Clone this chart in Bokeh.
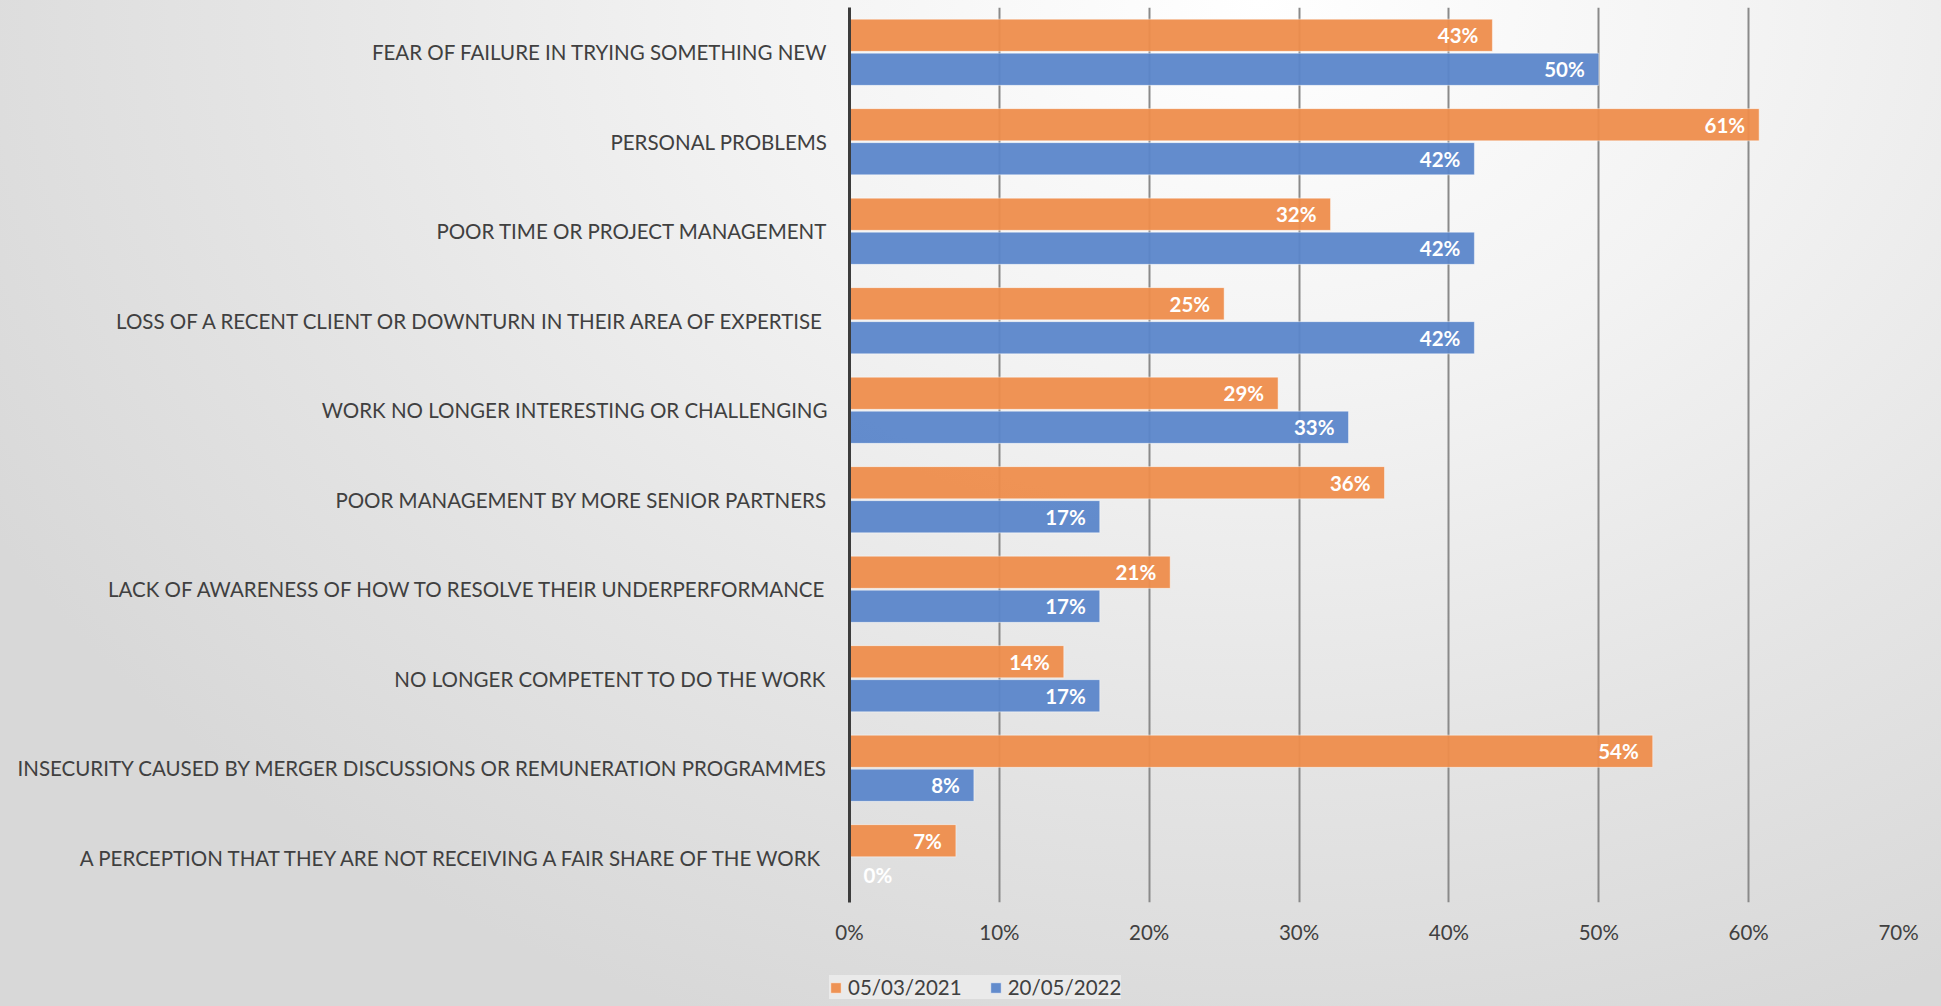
from bokeh.plotting import figure
from bokeh.models import (FactorRange, Range1d, ColumnDataSource, Legend, LegendItem,
                          PrintfTickFormatter, FixedTicker, InlineStyleSheet)
from bokeh.transform import dodge
from bokeh.core.properties import value, field
from bokeh.embed import file_html
from bokeh.resources import INLINE

categories = [
    "FEAR OF FAILURE IN TRYING SOMETHING NEW",
    "PERSONAL PROBLEMS",
    "POOR TIME OR PROJECT MANAGEMENT",
    "LOSS OF A RECENT CLIENT OR DOWNTURN IN THEIR AREA OF EXPERTISE",
    "WORK NO LONGER INTERESTING OR CHALLENGING",
    "POOR MANAGEMENT BY MORE SENIOR PARTNERS",
    "LACK OF AWARENESS OF HOW TO RESOLVE THEIR UNDERPERFORMANCE",
    "NO LONGER COMPETENT TO DO THE WORK",
    "INSECURITY CAUSED BY MERGER DISCUSSIONS OR REMUNERATION PROGRAMMES",
    "A PERCEPTION THAT THEY ARE NOT RECEIVING A FAIR SHARE OF THE WORK",
]
series_2021 = [42.9, 60.7, 32.1, 25.0, 28.6, 35.7, 21.4, 14.3, 53.6, 7.1]
series_2022 = [50.0, 41.7, 41.7, 41.7, 33.3, 16.7, 16.7, 16.7, 8.3, 0.0]
series_names = ["05/03/2021", "20/05/2022"]
x_ticks = [0, 10, 20, 30, 40, 50, 60, 70]

ORANGE = "#EE8D4C"
BLUE = "#5B86CA"
TEXT = "#404040"
FONT = "Lato"
FS = "20.5px"

GRADIENT = InlineStyleSheet(css=""":host { background: radial-gradient(ellipse 1450px 1100px at 1260px 0px, #ffffff 0%, #f3f3f3 35%, #e4e4e4 70%, #d8d8d8 100%); background-attachment: fixed; }""")

def lab(v):
    return ["%d%%" % round(x) for x in v]

def align(v):
    return ["right" if x > 0 else "left" for x in v]

def offs(v):
    return [-14 if x > 0 else 14 for x in v]

src = ColumnDataSource(dict(
    cat=categories,
    a=series_2021, b=series_2022,
    la=lab(series_2021), lb=lab(series_2022),
    aa=align(series_2021), ab=align(series_2022),
    oa=offs(series_2021), ob=offs(series_2022),
))

W = 1941
H_MAIN, H_LEG = 958, 48
p = figure(width=W, height=H_MAIN,
           y_range=FactorRange(factors=categories[::-1]),
           x_range=Range1d(0, 70),
           output_backend="svg", toolbar_location=None,
           min_border_left=849, min_border_right=43,
           min_border_top=7, min_border_bottom=56)

p.border_fill_color = None
p.background_fill_color = None
p.outline_line_color = None
p.stylesheets = [GRADIENT]

bar_kw = dict(height=0.36, left=0, source=src, fill_alpha=0.95,
              line_color="#ffffff", line_alpha=0.45, line_width=1)
r1 = p.hbar(y=dodge("cat", 0.19, range=p.y_range), right="a", fill_color=ORANGE, **bar_kw)
r2 = p.hbar(y=dodge("cat", -0.19, range=p.y_range), right="b", fill_color=BLUE, **bar_kw)

txt_kw = dict(source=src, text_baseline="middle", text_color="white",
              text_font=value(FONT), text_font_style="bold", text_font_size=FS)
p.text(x="a", y=dodge("cat", 0.19, range=p.y_range), text="la",
       text_align=field("aa"), x_offset=field("oa"), **txt_kw)
p.text(x="b", y=dodge("cat", -0.19, range=p.y_range), text="lb",
       text_align=field("ab"), x_offset=field("ob"), **txt_kw)

# axes
p.xaxis.ticker = FixedTicker(ticks=x_ticks)
p.xaxis.formatter = PrintfTickFormatter(format="%d%%")
p.xaxis.axis_line_color = None
p.xaxis.major_tick_line_color = None
p.xaxis.minor_tick_line_color = None
p.xaxis.major_label_standoff = 11
p.xaxis.major_label_text_font = FONT
p.xaxis.major_label_text_font_size = FS
p.xaxis.major_label_text_color = TEXT

p.yaxis.axis_line_color = "#3c3c3c"
p.yaxis.axis_line_width = 3
p.yaxis.major_tick_line_color = None
p.yaxis.minor_tick_line_color = None
p.yaxis.major_label_standoff = 16
p.yaxis.major_label_text_font = FONT
p.yaxis.major_label_text_font_size = FS
p.yaxis.major_label_text_color = TEXT

p.ygrid.grid_line_color = None
p.xgrid.ticker = FixedTicker(ticks=x_ticks[1:])
p.xgrid.grid_line_color = "#8a8a8a"
p.xgrid.grid_line_width = 2
p.xgrid.level = "image"

# legend strip (separate root so that its frame is not aligned to the chart's)
p2 = figure(width=W, height=H_LEG, x_axis_type=None, y_axis_type=None,
            x_range=Range1d(10, 11), y_range=Range1d(10, 11),
            output_backend="svg", toolbar_location=None,
            min_border_left=829, min_border_right=0,
            min_border_top=17, min_border_bottom=0)
p2.border_fill_color = None
p2.background_fill_color = None
p2.outline_line_color = None
p2.grid.visible = False
p2.stylesheets = [GRADIENT]
leg_kw = dict(line_color="#ffffff", line_alpha=0.45, line_width=1, fill_alpha=0.95)
k1 = p2.hbar(y=[0], left=[0], right=[0.1], height=0.1, fill_color=ORANGE, **leg_kw)
k2 = p2.hbar(y=[0], left=[0], right=[0.1], height=0.1, fill_color=BLUE, **leg_kw)

legend = Legend(items=[LegendItem(label=series_names[0], renderers=[k1]),
                       LegendItem(label=series_names[1], renderers=[k2])],
                orientation="horizontal", location="top_left",
                glyph_width=13, glyph_height=13, label_standoff=6, spacing=27,
                padding=12, margin=0,
                label_text_font=FONT, label_text_font_size=FS,
                label_text_color=TEXT,
                background_fill_color="#ececec", background_fill_alpha=0.85,
                border_line_color=None)
p2.add_layout(legend)

open("out.html", "w").write(file_html([p, p2], INLINE))
